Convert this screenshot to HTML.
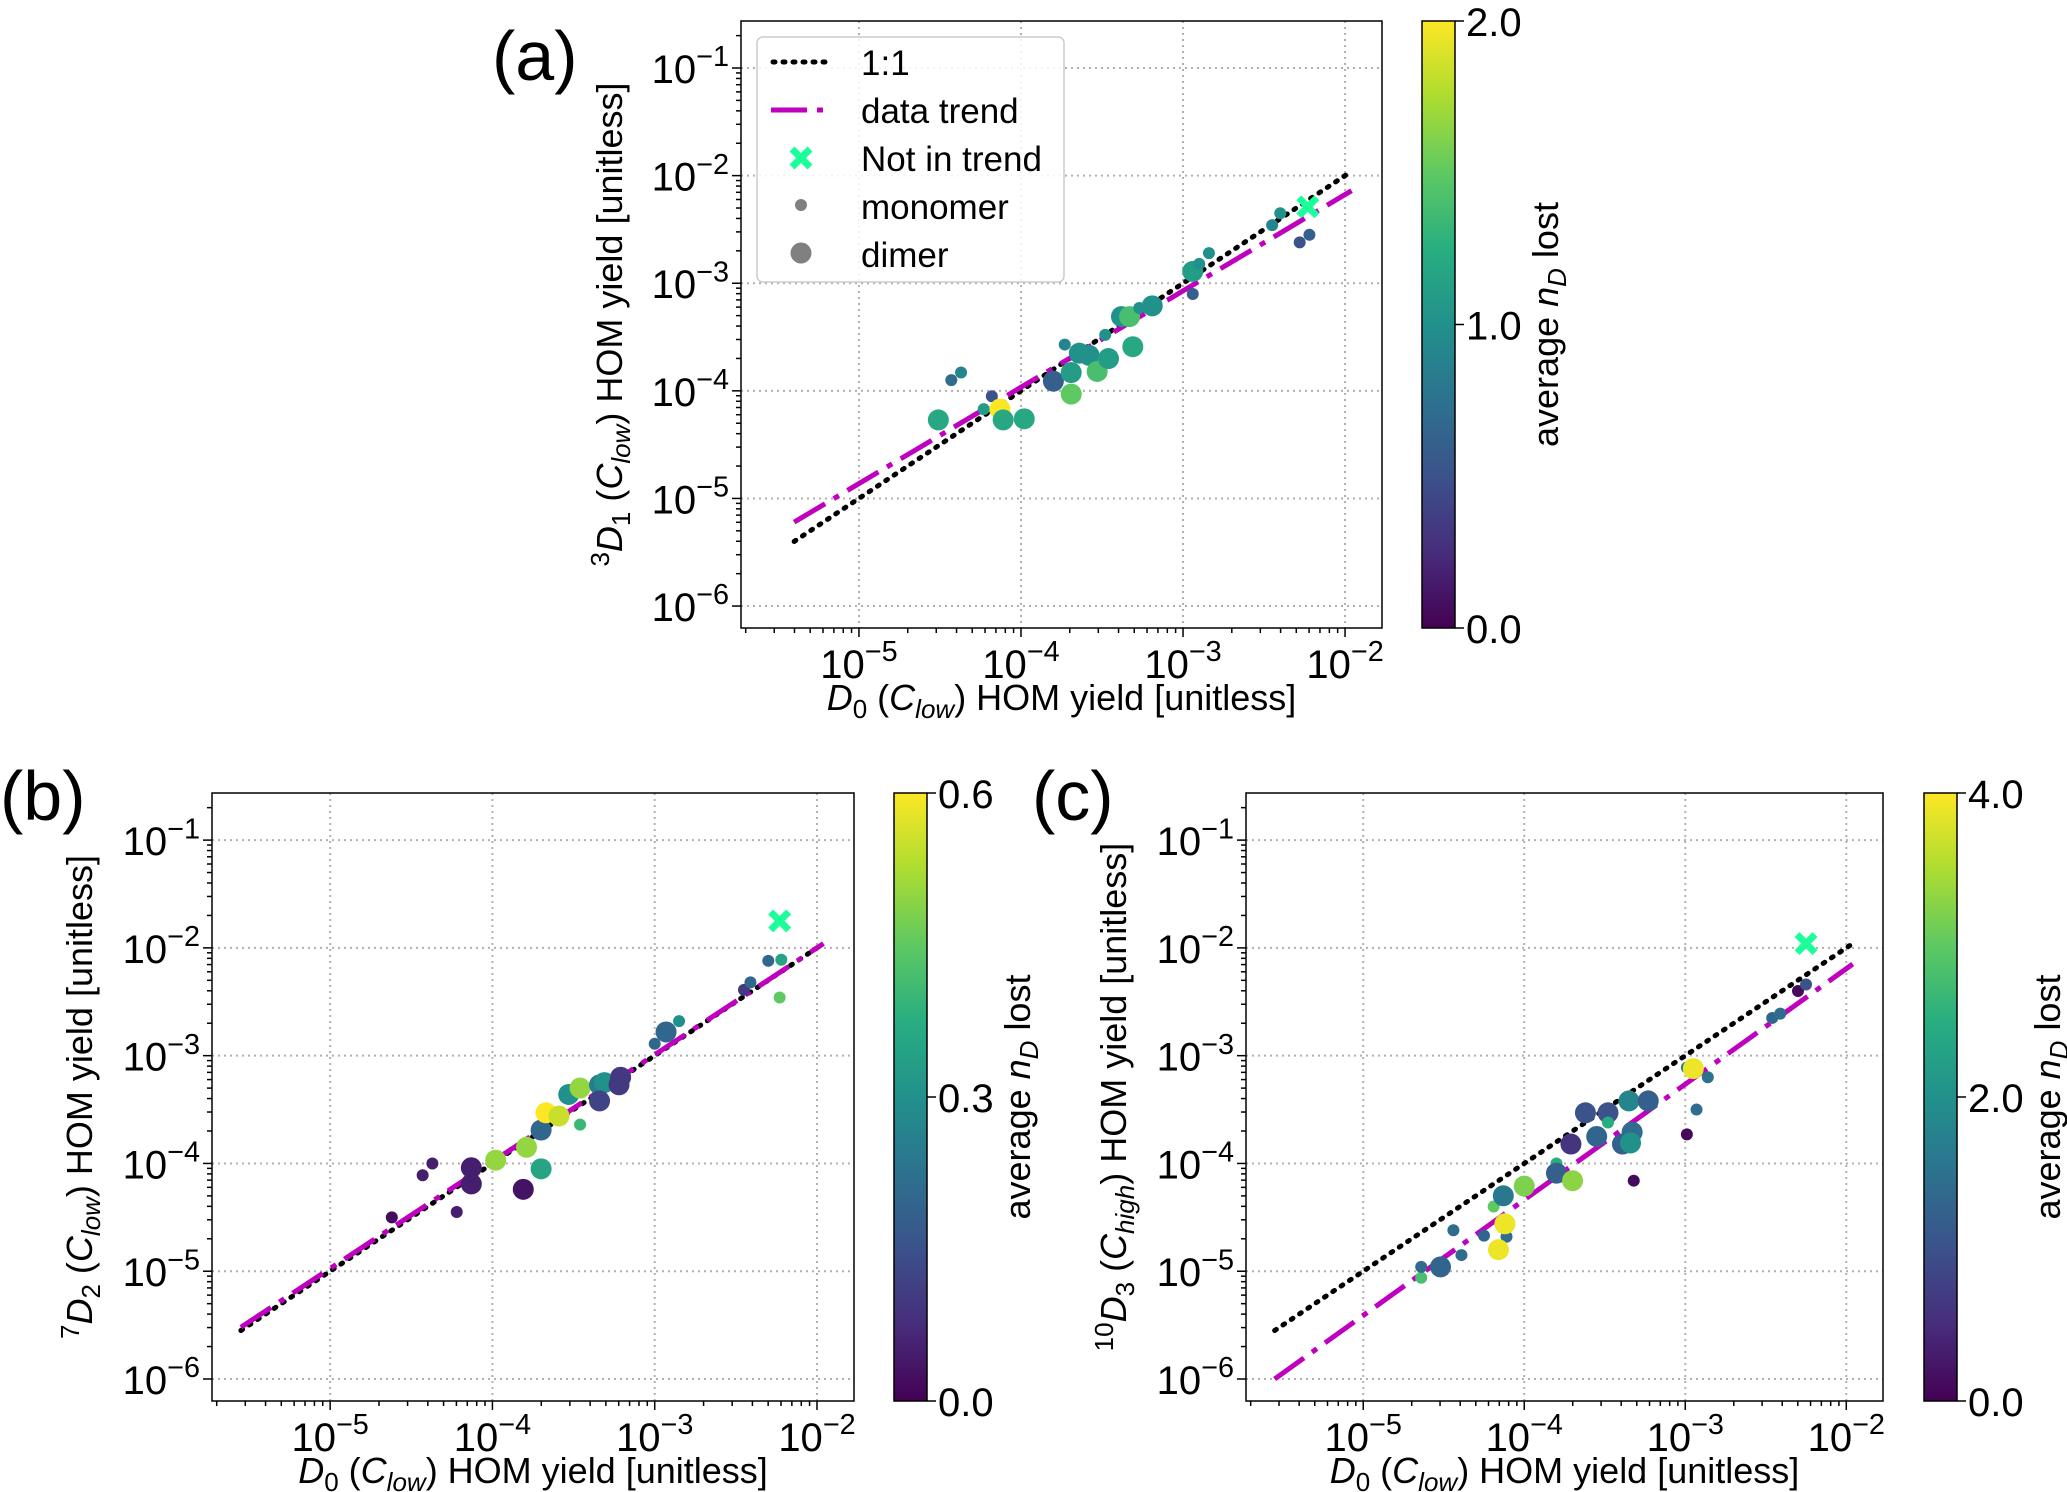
<!DOCTYPE html>
<html><head><meta charset="utf-8"><style>
body{margin:0;background:#fff}
svg{display:block;font-family:"Liberation Sans","DejaVu Sans",sans-serif}
</style></head><body>
<svg id="fig" width="2067" height="1492" viewBox="0 0 2067 1492" xmlns="http://www.w3.org/2000/svg">
<defs><linearGradient id="vir" x1="0" y1="1" x2="0" y2="0">
<stop offset="0" stop-color="#440154"/><stop offset="0.125" stop-color="#472d7b"/><stop offset="0.25" stop-color="#3b528b"/><stop offset="0.375" stop-color="#2c728e"/><stop offset="0.5" stop-color="#21918c"/><stop offset="0.625" stop-color="#28ae80"/><stop offset="0.75" stop-color="#5ec962"/><stop offset="0.875" stop-color="#addc30"/><stop offset="1" stop-color="#fde725"/></linearGradient></defs>
</svg>
<script>
// Panel (a): log10 values
const aX=[-4.51,-4.43,-4.37,-4.18,-4.23,-4.13,-4.11,-3.98,-3.80,-3.73,-3.69,-3.69,-3.64,-3.58,-3.53,-3.46,-3.48,-3.31,-3.38,-3.33,-3.27,-3.19,-2.94,-2.94,-2.90,-2.84,-2.45,-2.40,-2.28,-2.22];
const aY=[-4.27,-3.90,-3.83,-4.05,-4.17,-4.17,-4.27,-4.26,-3.91,-3.57,-4.03,-3.83,-3.65,-3.67,-3.82,-3.70,-3.48,-3.59,-3.31,-3.31,-3.23,-3.21,-3.10,-2.89,-2.82,-2.72,-2.46,-2.35,-2.62,-2.55];
const aType=['d','m','m','m','m','d','d','d','d','m','d','d','d','d','d','d','m','d','d','d','m','d','m','d','m','m','m','m','m','m'];
const aC=[1.2,0.7,0.9,0.5,1.1,2.0,1.2,1.2,0.6,0.9,1.5,1.1,1.0,1.0,1.4,1.1,1.0,1.2,1.0,1.4,1.0,1.0,0.6,1.1,1.0,1.0,0.9,1.0,0.5,0.6];
const aOut=[-2.23,-2.29];
// Panel (b)
const bX=[-4.62,-4.43,-4.37,-4.22,-4.13,-4.13,-3.98,-3.81,-3.79,-3.70,-3.70,-3.67,-3.59,-3.46,-3.53,-3.46,-3.34,-3.31,-3.34,-3.21,-3.22,-2.93,-2.85,-3.00,-2.45,-2.41,-2.30,-2.22,-2.23];
const bY=[-4.50,-4.11,-4.00,-4.45,-4.04,-4.19,-3.97,-4.24,-3.85,-4.05,-3.69,-3.53,-3.56,-3.64,-3.36,-3.30,-3.27,-3.25,-3.42,-3.20,-3.27,-2.78,-2.68,-2.89,-2.39,-2.32,-2.12,-2.11,-2.46];
const bType=['m','m','m','m','d','d','d','d','d','d','d','d','d','m','d','d','d','d','d','d','d','d','m','m','m','m','m','m','m'];
const bC=[0.02,0.05,0.05,0.05,0.05,0.05,0.5,0.03,0.5,0.35,0.2,0.6,0.55,0.4,0.3,0.5,0.25,0.3,0.12,0.1,0.1,0.2,0.3,0.2,0.1,0.2,0.2,0.35,0.45];
const bOut=[-2.23,-1.75];
// Panel (c)
const cX=[-4.64,-4.64,-4.52,-4.44,-4.39,-4.25,-4.19,-4.13,-4.11,-4.12,-4.16,-4.00,-3.80,-3.80,-3.70,-3.71,-3.62,-3.55,-3.48,-3.48,-3.35,-3.39,-3.33,-3.34,-3.23,-3.32,-2.99,-2.93,-2.86,-2.99,-2.95,-2.46,-2.41,-2.30,-2.25];
const cY=[-5.06,-4.96,-4.96,-4.62,-4.85,-4.67,-4.40,-4.30,-4.68,-4.56,-4.80,-4.21,-4.00,-4.09,-4.16,-3.82,-3.53,-3.75,-3.53,-3.62,-3.42,-3.82,-3.71,-3.81,-3.42,-4.16,-3.73,-3.50,-3.20,-3.11,-3.12,-2.65,-2.61,-2.40,-2.34];
const cType=['m','m','d','m','m','m','m','d','m','d','d','d','m','d','d','d','d','d','d','m','d','d','d','d','d','m','m','m','m','m','d','m','m','m','m'];
const cC=[2.8,1.4,1.3,1.4,1.4,1.3,3.0,1.6,1.4,3.9,3.9,3.2,2.5,1.2,3.3,0.6,1.0,1.3,1.0,2.5,1.8,1.2,1.4,2.0,1.2,0.1,0.1,1.4,1.5,1.6,3.9,1.3,1.4,0.1,1.0];
const cOut=[-2.25,-1.96];
// Lines [x0,y0,x1,y1] log10
const aOne=[-5.40,-5.40,-1.96,-1.96], aTrend=[-5.40,-5.22,-1.96,-2.14];
const bOne=[-5.55,-5.55,-1.96,-1.96], bTrend=[-5.55,-5.52,-1.96,-1.96];
const cOne=[-5.55,-5.55,-1.96,-1.96], cTrend=[-5.55,-6.00,-1.96,-2.15];
const cbTicksA=['0.0','1.0','2.0'], cbTicksB=['0.0','0.3','0.6'], cbTicksC=['0.0','2.0','4.0'];
const cbMaxA=2, cbMaxB=0.6, cbMaxC=4;
const xTickExp=[-5,-4,-3,-2], yTickExp=[-6,-5,-4,-3,-2,-1];

const NS='http://www.w3.org/2000/svg';
const svg=document.getElementById('fig');
function mk(tag,attrs,parent){const e=document.createElementNS(NS,tag);for(const k in attrs)e.setAttribute(k,attrs[k]);(parent||svg).appendChild(e);return e;}
const stops=['#440154','#472d7b','#3b528b','#2c728e','#21918c','#28ae80','#5ec962','#addc30','#fde725'];
function hex(h){return [1,3,5].map(i=>parseInt(h.substr(i,2),16));}
function vir(t){t=Math.max(0,Math.min(1,t));const p=t*8,i=Math.min(7,Math.floor(p)),f=p-i;const a=hex(stops[i]),b=hex(stops[i+1]);return 'rgb('+a.map((v,k)=>Math.round(v+(b[k]-v)*f)).join(',')+')';}
function powText(g,x,y,exp,anchor,fs){
  const t=mk('text',{x:x,y:y,'font-size':fs,'text-anchor':anchor,fill:'#000'},g);
  const a=mk('tspan',{},t);a.textContent='10';
  const b=mk('tspan',{dy:-fs*0.42,'font-size':fs*0.72},t);b.textContent='−'+(-exp);
  return t;
}
function panel(P){
  const g=mk('g',{});
  
  
  const xl=-5.728,xr=-1.772,yt=-0.563,yb=-6.204;
  const sx=v=>P.L+(v-xl)/(xr-xl)*(P.R-P.L);
  const sy=v=>P.T+(yt-v)/(yt-yb)*(P.B-P.T);
  xTickExp.forEach(e=>{const l=mk('line',{x1:sx(e),x2:sx(e),y1:P.T,y2:P.B,stroke:'#b0b0b0','stroke-width':2,'stroke-dasharray':'2,4'},g);
    });
  yTickExp.forEach(e=>{const l=mk('line',{x1:P.L,x2:P.R,y1:sy(e),y2:sy(e),stroke:'#b0b0b0','stroke-width':2,'stroke-dasharray':'2,4'},g);
    });
  for(let d=-6;d<=-1;d++){for(let m=1;m<10;m++){const v=d+Math.log10(m);
    if(v>xl&&v<xr){mk('line',{x1:sx(v),x2:sx(v),y1:P.B,y2:P.B+(m==1?9:5),stroke:'#000','stroke-width':1.5},g);}
    if(v>yb&&v<yt){mk('line',{x1:P.L,x2:P.L-(m==1?9:5),y1:sy(v),y2:sy(v),stroke:'#000','stroke-width':1.5},g);}}}
  xTickExp.forEach(e=>{const t=powText(g,sx(e),P.B+50,e,'middle',40);});
  yTickExp.forEach(e=>{const t=powText(g,P.L-12,sy(e)+15,e,'end',40);});
  const one=mk('line',{x1:sx(P.one[0]),y1:sy(P.one[1]),x2:sx(P.one[2]),y2:sy(P.one[3]),stroke:'#000','stroke-width':5,'stroke-dasharray':'2,8','stroke-linecap':'round'},g);
  
  const tr=mk('line',{x1:sx(P.trend[0]),y1:sy(P.trend[1]),x2:sx(P.trend[2]),y2:sy(P.trend[3]),stroke:'#bf00bf','stroke-width':5,'stroke-dasharray':'36,10,6,10'},g);
  
  P.X.forEach((xv,i)=>{const c=mk('circle',{cx:sx(xv),cy:sy(P.Y[i]),r:P.type[i]=='d'?10.5:6,fill:vir(P.C[i]/P.cmax)},g);
    });
  const ox=sx(P.out[0]),oy=sy(P.out[1]);
  const xo=mk('path',{d:`M${ox-9},${oy-9}L${ox+9},${oy+9}M${ox+9},${oy-9}L${ox-9},${oy+9}`,stroke:'#1aff9a','stroke-width':7},g);
  
  const fr=mk('rect',{x:P.L,y:P.T,width:P.R-P.L,height:P.B-P.T,fill:'none',stroke:'#000','stroke-width':1.5},g);
  
  const xt=mk('text',{x:(P.L+P.R)/2,y:P.B+82,'font-size':36,'text-anchor':'middle'},g);
  
  xt.innerHTML='<tspan font-style="italic">D</tspan><tspan font-size="26" dy="8">0</tspan><tspan dy="-8"> (</tspan><tspan font-style="italic">C</tspan><tspan font-size="26" dy="8" font-style="italic">low</tspan><tspan dy="-8">) HOM yield [unitless]</tspan>';
  const yx=P.ylabX, yy=(P.T+P.B)/2;
  const yt2=mk('text',{x:yx,y:yy,'font-size':36,'text-anchor':'middle',transform:`rotate(-90 ${yx} ${yy})`},g);
  
  yt2.innerHTML=`<tspan font-size="26" dy="-13">${P.sup}</tspan><tspan font-style="italic" dy="13">D</tspan><tspan font-size="26" dy="8">${P.sub}</tspan><tspan dy="-8"> (</tspan><tspan font-style="italic">C</tspan><tspan font-size="26" dy="8" font-style="italic">${P.cs}</tspan><tspan dy="-8">) HOM yield [unitless]</tspan>`;
  const cb=mk('rect',{x:P.cbx,y:P.T,width:33,height:P.B-P.T,fill:'url(#vir)',stroke:'#000','stroke-width':1.5},g);
  
  P.cbt.forEach((s,i)=>{const y=P.B-i*(P.B-P.T)/2;
    mk('line',{x1:P.cbx+33,x2:P.cbx+42,y1:y,y2:y,stroke:'#000','stroke-width':1.5},g);
    const t=mk('text',{x:P.cbx+44,y:y+15,'font-size':40},g);t.textContent=s;
    });
  const lx=P.cbx+136, ly=(P.T+P.B)/2;
  const cl=mk('text',{x:lx,y:ly,'font-size':36,'text-anchor':'middle',transform:`rotate(-90 ${lx} ${ly})`},g);
  
  cl.innerHTML='average <tspan font-style="italic">n</tspan><tspan font-size="26" dy="8" font-style="italic">D</tspan><tspan dy="-8"> lost</tspan>';
  const pl=mk('text',{x:P.plx,y:P.ply,'font-size':70},g);pl.textContent=P.lab;
  
}
panel({name:'panel-a',L:741,R:1382,T:21,B:628,X:aX,Y:aY,type:aType,C:aC,cmax:cbMaxA,out:aOut,one:aOne,trend:aTrend,cbx:1422,cbt:cbTicksA,ylabX:622,sup:'3',sub:'1',cs:'low',lab:'(a)',plx:492,ply:80});
panel({name:'panel-b',L:212,R:854,T:793,B:1401,X:bX,Y:bY,type:bType,C:bC,cmax:cbMaxB,out:bOut,one:bOne,trend:bTrend,cbx:894,cbt:cbTicksB,ylabX:92,sup:'7',sub:'2',cs:'low',lab:'(b)',plx:0,ply:820});
panel({name:'panel-c',L:1246,R:1883,T:793,B:1401,X:cX,Y:cY,type:cType,C:cC,cmax:cbMaxC,out:cOut,one:cOne,trend:cTrend,cbx:1924,cbt:cbTicksC,ylabX:1126,sup:'10',sub:'3',cs:'high',lab:'(c)',plx:1032,ply:820});
const lg=mk('g',{});


mk('rect',{x:757,y:37,width:307,height:245,rx:6,fill:'#fff','fill-opacity':0.85,stroke:'#ccc','stroke-width':1.5},lg);
mk('line',{x1:773,x2:831,y1:62,y2:62,stroke:'#000','stroke-width':5,'stroke-dasharray':'2,8','stroke-linecap':'round'},lg);
mk('line',{x1:771,x2:831,y1:110,y2:110,stroke:'#bf00bf','stroke-width':5,'stroke-dasharray':'36,10,6,10'},lg);
mk('path',{d:'M792,149L810,167M810,149L792,167',stroke:'#1aff9a','stroke-width':7},lg);
mk('circle',{cx:801,cy:205,r:6,fill:'#808080'},lg);
mk('circle',{cx:801,cy:253,r:10.5,fill:'#808080'},lg);
['1:1','data trend','Not in trend','monomer','dimer'].forEach((s,i)=>{const t=mk('text',{x:861,y:75+i*48,'font-size':35},lg);t.textContent=s;
  });
</script>
</body></html>
